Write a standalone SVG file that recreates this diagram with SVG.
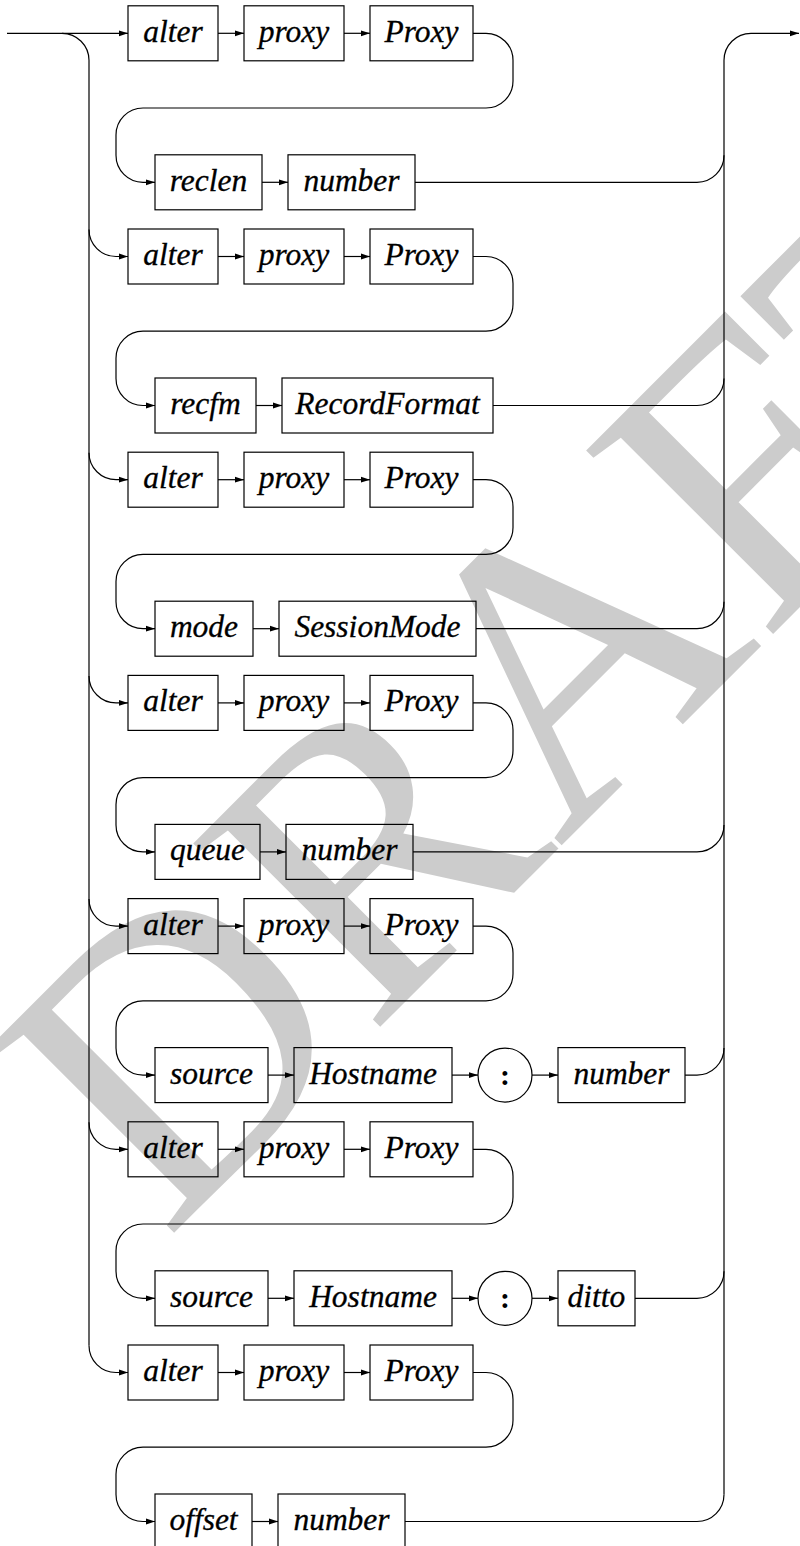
<svg xmlns="http://www.w3.org/2000/svg" width="800" height="1546" viewBox="0 0 800 1546">
<defs>
<marker id="ah" markerWidth="9" markerHeight="7" refX="9" refY="3.5" orient="auto" markerUnits="userSpaceOnUse"><path d="M0,0.6 L9,3.5 L0,6.4 z" fill="#000"/></marker>
<style>
.box{fill:none;stroke:#000;stroke-width:1.2}
.t{font-family:"Liberation Serif","Times New Roman",serif;font-style:italic;font-size:31.5px;fill:#000;stroke:#000;stroke-width:0.3;text-anchor:middle}
.c{font-family:"Liberation Serif","Times New Roman",serif;font-weight:bold;font-size:30px;fill:#000;text-anchor:middle}
.ln{fill:none;stroke:#000;stroke-width:1.2}
.ar{fill:none;stroke:#000;stroke-width:1.2;marker-end:url(#ah)}
.wm{font-family:"Liberation Serif","Times New Roman",serif;font-size:400px;fill:#cccccc}
</style>
</defs>
<rect width="800" height="1546" fill="#fff"/>
<text class="wm" x="166" y="1241" transform="rotate(-45 166 1241)">DRAFT</text>

<g id="connectors">
<path class="ar" d="M7 33.3 H128"/>
<path class="ln" d="M62 33.3 A27 27 0 0 1 89 60.3 V1345.5"/>
<path class="ar" d="M724 1494.5 V60.3 A27 27 0 0 1 751 33.3 H799"/>
<path class="ar" d="M218 33.3 H244"/><path class="ar" d="M344 33.3 H370"/>
<path class="ar" d="M473 33.3 H486 A27 27 0 0 1 513 60.3 V81 A27 27 0 0 1 486 108 H143 A27 27 0 0 0 116 135 V155.3 A27 27 0 0 0 143 182.3 H155"/>
<path class="ar" d="M262 182.3 H288"/>
<path class="ln" d="M415 182.3 H697 A27 27 0 0 0 724 155.3"/>
<path class="ar" d="M89 229.5 A27 27 0 0 0 116 256.5 H128"/>
<path class="ar" d="M218 256.5 H244"/><path class="ar" d="M344 256.5 H370"/>
<path class="ar" d="M473 256.5 H486 A27 27 0 0 1 513 283.5 V304.2 A27 27 0 0 1 486 331.2 H143 A27 27 0 0 0 116 358.2 V378.5 A27 27 0 0 0 143 405.5 H155"/>
<path class="ar" d="M256 405.5 H282"/>
<path class="ln" d="M493 405.5 H697 A27 27 0 0 0 724 378.5"/>
<path class="ar" d="M89 452.7 A27 27 0 0 0 116 479.7 H128"/>
<path class="ar" d="M218 479.7 H244"/><path class="ar" d="M344 479.7 H370"/>
<path class="ar" d="M473 479.7 H486 A27 27 0 0 1 513 506.7 V527.4 A27 27 0 0 1 486 554.4 H143 A27 27 0 0 0 116 581.4 V601.7 A27 27 0 0 0 143 628.7 H155"/>
<path class="ar" d="M253 628.7 H279"/>
<path class="ln" d="M476 628.7 H697 A27 27 0 0 0 724 601.7"/>
<path class="ar" d="M89 675.9 A27 27 0 0 0 116 702.9 H128"/>
<path class="ar" d="M218 702.9 H244"/><path class="ar" d="M344 702.9 H370"/>
<path class="ar" d="M473 702.9 H486 A27 27 0 0 1 513 729.9 V750.6 A27 27 0 0 1 486 777.6 H143 A27 27 0 0 0 116 804.6 V824.9 A27 27 0 0 0 143 851.9 H155"/>
<path class="ar" d="M260 851.9 H286"/>
<path class="ln" d="M413 851.9 H697 A27 27 0 0 0 724 824.9"/>
<path class="ar" d="M89 899.1 A27 27 0 0 0 116 926.1 H128"/>
<path class="ar" d="M218 926.1 H244"/><path class="ar" d="M344 926.1 H370"/>
<path class="ar" d="M473 926.1 H486 A27 27 0 0 1 513 953.1 V973.8 A27 27 0 0 1 486 1000.8 H143 A27 27 0 0 0 116 1027.8 V1048.1 A27 27 0 0 0 143 1075.1 H155"/>
<path class="ar" d="M268 1075.1 H294"/><path class="ar" d="M452 1075.1 H478"/><path class="ar" d="M532 1075.1 H558"/>
<path class="ln" d="M685 1075.1 H697 A27 27 0 0 0 724 1048.1"/>
<path class="ar" d="M89 1122.3 A27 27 0 0 0 116 1149.3 H128"/>
<path class="ar" d="M218 1149.3 H244"/><path class="ar" d="M344 1149.3 H370"/>
<path class="ar" d="M473 1149.3 H486 A27 27 0 0 1 513 1176.3 V1197 A27 27 0 0 1 486 1224 H143 A27 27 0 0 0 116 1251 V1271.3 A27 27 0 0 0 143 1298.3 H155"/>
<path class="ar" d="M268 1298.3 H294"/><path class="ar" d="M452 1298.3 H478"/><path class="ar" d="M532 1298.3 H558"/>
<path class="ln" d="M635 1298.3 H697 A27 27 0 0 0 724 1271.3"/>
<path class="ar" d="M89 1345.5 A27 27 0 0 0 116 1372.5 H128"/>
<path class="ar" d="M218 1372.5 H244"/><path class="ar" d="M344 1372.5 H370"/>
<path class="ar" d="M473 1372.5 H486 A27 27 0 0 1 513 1399.5 V1420.2 A27 27 0 0 1 486 1447.2 H143 A27 27 0 0 0 116 1474.2 V1494.5 A27 27 0 0 0 143 1521.5 H155"/>
<path class="ar" d="M252 1521.5 H278"/>
<path class="ln" d="M405 1521.5 H697 A27 27 0 0 0 724 1494.5"/>
</g>

<g id="a0-alter"><rect class="box" x="128" y="5.8" width="90" height="55"/><text class="t" x="173" y="41.8">alter</text></g>
<g id="a0-proxy"><rect class="box" x="244" y="5.8" width="100" height="55"/><text class="t" x="294" y="41.8">proxy</text></g>
<g id="a0-Proxy"><rect class="box" x="370" y="5.8" width="103" height="55"/><text class="t" x="421.5" y="41.8">Proxy</text></g>
<g id="a0-reclen"><rect class="box" x="155" y="154.8" width="107" height="55"/><text class="t" x="208.5" y="190.8">reclen</text></g>
<g id="a0-number"><rect class="box" x="288" y="154.8" width="127" height="55"/><text class="t" x="351.5" y="190.8">number</text></g>
<g id="a1-alter"><rect class="box" x="128" y="229" width="90" height="55"/><text class="t" x="173" y="265">alter</text></g>
<g id="a1-proxy"><rect class="box" x="244" y="229" width="100" height="55"/><text class="t" x="294" y="265">proxy</text></g>
<g id="a1-Proxy"><rect class="box" x="370" y="229" width="103" height="55"/><text class="t" x="421.5" y="265">Proxy</text></g>
<g id="a1-recfm"><rect class="box" x="155" y="378" width="101" height="55"/><text class="t" x="205.5" y="414">recfm</text></g>
<g id="a1-RecordFormat"><rect class="box" x="282" y="378" width="211" height="55"/><text class="t" x="387.5" y="414">RecordFormat</text></g>
<g id="a2-alter"><rect class="box" x="128" y="452.2" width="90" height="55"/><text class="t" x="173" y="488.2">alter</text></g>
<g id="a2-proxy"><rect class="box" x="244" y="452.2" width="100" height="55"/><text class="t" x="294" y="488.2">proxy</text></g>
<g id="a2-Proxy"><rect class="box" x="370" y="452.2" width="103" height="55"/><text class="t" x="421.5" y="488.2">Proxy</text></g>
<g id="a2-mode"><rect class="box" x="155" y="601.2" width="98" height="55"/><text class="t" x="204" y="637.2">mode</text></g>
<g id="a2-SessionMode"><rect class="box" x="279" y="601.2" width="197" height="55"/><text class="t" x="377.5" y="637.2">SessionMode</text></g>
<g id="a3-alter"><rect class="box" x="128" y="675.4" width="90" height="55"/><text class="t" x="173" y="711.4">alter</text></g>
<g id="a3-proxy"><rect class="box" x="244" y="675.4" width="100" height="55"/><text class="t" x="294" y="711.4">proxy</text></g>
<g id="a3-Proxy"><rect class="box" x="370" y="675.4" width="103" height="55"/><text class="t" x="421.5" y="711.4">Proxy</text></g>
<g id="a3-queue"><rect class="box" x="155" y="824.4" width="105" height="55"/><text class="t" x="207.5" y="860.4">queue</text></g>
<g id="a3-number"><rect class="box" x="286" y="824.4" width="127" height="55"/><text class="t" x="349.5" y="860.4">number</text></g>
<g id="a4-alter"><rect class="box" x="128" y="898.6" width="90" height="55"/><text class="t" x="173" y="934.6">alter</text></g>
<g id="a4-proxy"><rect class="box" x="244" y="898.6" width="100" height="55"/><text class="t" x="294" y="934.6">proxy</text></g>
<g id="a4-Proxy"><rect class="box" x="370" y="898.6" width="103" height="55"/><text class="t" x="421.5" y="934.6">Proxy</text></g>
<g id="a4-source"><rect class="box" x="155" y="1047.6" width="113" height="55"/><text class="t" x="211.5" y="1083.6">source</text></g>
<g id="a4-Hostname"><rect class="box" x="294" y="1047.6" width="158" height="55"/><text class="t" x="373" y="1083.6">Hostname</text></g>
<g id="a4-colon"><circle class="box" cx="505" cy="1075.1" r="27"/><text class="c" x="505" y="1084.6">:</text></g>
<g id="a4-number"><rect class="box" x="558" y="1047.6" width="127" height="55"/><text class="t" x="621.5" y="1083.6">number</text></g>
<g id="a5-alter"><rect class="box" x="128" y="1121.8" width="90" height="55"/><text class="t" x="173" y="1157.8">alter</text></g>
<g id="a5-proxy"><rect class="box" x="244" y="1121.8" width="100" height="55"/><text class="t" x="294" y="1157.8">proxy</text></g>
<g id="a5-Proxy"><rect class="box" x="370" y="1121.8" width="103" height="55"/><text class="t" x="421.5" y="1157.8">Proxy</text></g>
<g id="a5-source"><rect class="box" x="155" y="1270.8" width="113" height="55"/><text class="t" x="211.5" y="1306.8">source</text></g>
<g id="a5-Hostname"><rect class="box" x="294" y="1270.8" width="158" height="55"/><text class="t" x="373" y="1306.8">Hostname</text></g>
<g id="a5-colon"><circle class="box" cx="505" cy="1298.3" r="27"/><text class="c" x="505" y="1307.8">:</text></g>
<g id="a5-ditto"><rect class="box" x="558" y="1270.8" width="77" height="55"/><text class="t" x="596.5" y="1306.8">ditto</text></g>
<g id="a6-alter"><rect class="box" x="128" y="1345" width="90" height="55"/><text class="t" x="173" y="1381">alter</text></g>
<g id="a6-proxy"><rect class="box" x="244" y="1345" width="100" height="55"/><text class="t" x="294" y="1381">proxy</text></g>
<g id="a6-Proxy"><rect class="box" x="370" y="1345" width="103" height="55"/><text class="t" x="421.5" y="1381">Proxy</text></g>
<g id="a6-offset"><rect class="box" x="155" y="1494" width="97" height="55"/><text class="t" x="203.5" y="1530">offset</text></g>
<g id="a6-number"><rect class="box" x="278" y="1494" width="127" height="55"/><text class="t" x="341.5" y="1530">number</text></g>
</svg>
